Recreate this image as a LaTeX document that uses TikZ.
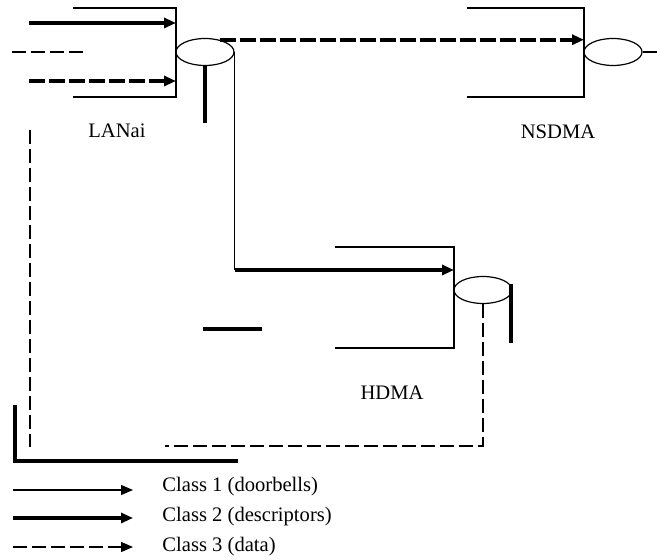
\documentclass[tikz,border=0pt]{standalone}
\usepackage{fontspec}
\setmainfont{Liberation Serif}
\usetikzlibrary{arrows.meta,shapes.geometric}

\tikzset{
  port/.style={draw, ellipse, line width=0.6pt, minimum width=29pt,
    minimum height=13.5pt, inner sep=0pt},
  cls1/.style={line width=0.6pt},
  cls2/.style={line width=1.8pt},
  cls3/.style={line width=0.6pt, dash pattern=on 7pt off 2.5pt},
  cls3b/.style={line width=1.8pt, dash pattern=on 8pt off 2pt},
  lbl/.style={font=\fontsize{10.3}{12}\selectfont, inner sep=0pt},
}

\begin{document}
\begin{tikzpicture}[x=0.5pt, y=-0.5pt, >={Triangle[length=6pt,width=5pt]}]

\useasboundingbox (0,0) rectangle (660,560);

%--- LANai ---
\coordinate (lanaiNW) at (73,8);
\coordinate (lanaiNE) at (176,8);
\coordinate (lanaiSE) at (176,97);
\coordinate (lanaiSW) at (73,97);
\draw[cls1] (lanaiNW) -- (lanaiNE) -- (lanaiSE) -- (lanaiSW);
\node[port] (lport) at (205,52) {};
\node[lbl] (lanaiLbl) at (117,131) {LANai};

% incoming on the left
\coordinate (inA) at (29,23);
\coordinate (inB) at (12,52);
\coordinate (inBend) at (87,52);
\coordinate (inC) at (29,81);
\draw[cls2,->] (inA) -- (inA -| lanaiNE);
\draw[cls3] (inB) -- (inBend);
\draw[cls3b,->] (inC) -- (inC -| lanaiNE);

% stub under the port
\coordinate (lStub) at (205,123);
\draw[cls2] (lport.south) -- (lStub);

%--- NSDMA ---
\coordinate (nsdmaNW) at (467,8);
\coordinate (nsdmaNE) at (584,8);
\coordinate (nsdmaSE) at (584,97);
\coordinate (nsdmaSW) at (467,97);
\draw[cls1] (nsdmaNW) -- (nsdmaNE) -- (nsdmaSE) -- (nsdmaSW);
\node[port] (nport) at (613,52) {};
\node[lbl] (nsdmaLbl) at (558,132) {NSDMA};
\coordinate (nOut) at (660,52);
\draw[cls3] (nport.east) -- (nOut);

% LANai -> NSDMA (data)
\draw[cls3b,->] (lport.40) -- (lport.40 -| nsdmaNE);

%--- HDMA ---
\coordinate (hdmaNW) at (335,247);
\coordinate (hdmaNE) at (454,247);
\coordinate (hdmaSE) at (454,348);
\coordinate (hdmaSW) at (335,348);
\draw[cls1] (hdmaNW) -- (hdmaNE) -- (hdmaSE) -- (hdmaSW);
\node[port] (hport) at (483,290) {};
\node[lbl] (hdmaLbl) at (392,393) {HDMA};

% LANai -> HDMA (descriptors)
\coordinate (hdmaIn) at (454,270);
\draw[cls1] (lport.east) -- (lport.east |- hdmaIn);
\draw[cls2,->] (lport.east |- hdmaIn) -- (hdmaIn);

% stubs round HDMA
\coordinate (hStubA) at (511,284);
\coordinate (hStubB) at (511,343);
\draw[cls2] (hStubA) -- (hStubB);
\coordinate (midA) at (203,329);
\coordinate (midB) at (262,329);
\draw[cls2] (midA) -- (midB);

% HDMA data back to the left
\coordinate (hdOut) at (165,446);
\draw[cls3] (hport.south) |- (hdOut);

%--- Left side ---
\coordinate (leftA) at (30,130);
\coordinate (leftB) at (30,447);
\draw[cls3] (leftA) -- (leftB);
\coordinate (cornA) at (15,405);
\coordinate (cornB) at (238,461);
\draw[cls2] (cornA) |- (cornB);

%--- Legend ---
\foreach \i/\y/\yb/\sty/\lab in {1/490/492/cls1/{Class 1 (doorbells)},
                                 2/518/522/cls2/{Class 2 (descriptors)},
                                 3/547/552/cls3/{Class 3 (data)}}{
  \coordinate (legA\i) at (13,\y);
  \coordinate (legB\i) at (133,\y);
  \draw[\sty,->] (legA\i) -- (legB\i);
  \node[lbl, anchor=base west] (leg\i) at (162,\yb) {\lab};
}

\end{tikzpicture}
\end{document}
